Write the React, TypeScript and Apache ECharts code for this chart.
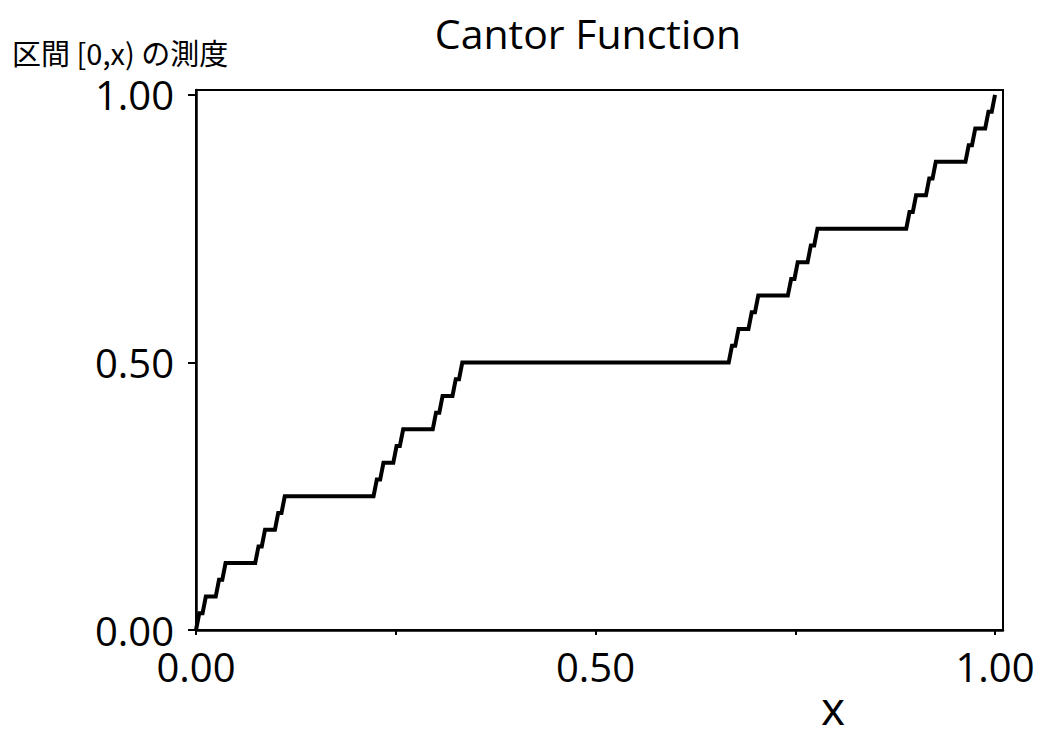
import React, { useEffect, useRef } from "react";
import * as echarts from "echarts";

// Flat segments of the Cantor staircase
const flatStart = [0.0041, 0.0123, 0.0288, 0.037, 0.0782, 0.0864, 0.1029, 0.1111, 0.2263, 0.2346, 0.251, 0.2593, 0.3004, 0.3086, 0.3251, 0.3333, 0.6708, 0.679, 0.6955, 0.7037, 0.7449, 0.7531, 0.7695, 0.7778, 0.893, 0.9012, 0.9177, 0.9259, 0.9671, 0.9753, 0.9918];
const flatEnd = [0.0082, 0.0247, 0.0329, 0.0741, 0.0823, 0.0988, 0.107, 0.2222, 0.2305, 0.2469, 0.2551, 0.2963, 0.3045, 0.321, 0.3292, 0.6667, 0.6749, 0.6914, 0.6996, 0.7407, 0.749, 0.7654, 0.7737, 0.8889, 0.8971, 0.9136, 0.9218, 0.963, 0.9712, 0.9877, 0.9959];
const flatLevel = [0.03125, 0.0625, 0.09375, 0.125, 0.15625, 0.1875, 0.21875, 0.25, 0.28125, 0.3125, 0.34375, 0.375, 0.40625, 0.4375, 0.46875, 0.5, 0.53125, 0.5625, 0.59375, 0.625, 0.65625, 0.6875, 0.71875, 0.75, 0.78125, 0.8125, 0.84375, 0.875, 0.90625, 0.9375, 0.96875];
const startPoint = [0, 0];
const endPoint = [1, 1];
const labelTicks = [0, 0.5, 1];

const TITLE = "Cantor Function";
const Y_NAME = "区間 [0,x) の測度";
const X_NAME = "x";

export default function App() {
  const ref = useRef<HTMLDivElement>(null);
  useEffect(() => {
    if (!ref.current) return;
    const chart = echarts.init(ref.current, undefined, { renderer: "svg" });
    const pts: number[][] = [startPoint];
    flatStart.forEach((s, i) => {
      pts.push([s, flatLevel[i]]);
      pts.push([flatEnd[i], flatLevel[i]]);
    });
    pts.push(endPoint);
    const fmt = (v: number) =>
      labelTicks.some((t) => Math.abs(t - v) < 1e-6) ? v.toFixed(2) : "";
    const sans = "'Open Sans', 'DejaVu Sans', sans-serif";
    chart.setOption({
      animation: false,
      backgroundColor: "#fff",
      title: {
        text: TITLE,
        left: 583,
        top: 7,
        textAlign: "center",
        textStyle: { fontFamily: sans, fontSize: 41, fontWeight: "normal", color: "#000" },
      },
      graphic: [
        {
          type: "text",
          left: 12,
          top: 37,
          style: { text: Y_NAME, font: "29px 'Noto Sans CJK JP', serif", fill: "#000" },
        },
        {
          type: "text",
          left: 821,
          top: 684,
          style: { text: X_NAME, font: `46px ${sans}`, fill: "#000" },
        },
      ],
      grid: {
        left: 196,
        top: 90,
        right: 38,
        bottom: 122,
        show: true,
        borderColor: "#000",
        borderWidth: 2,
        backgroundColor: "transparent",
      },
      xAxis: {
        type: "value",
        min: 0,
        max: 1.01,
        interval: 0.25,
        splitLine: { show: false },
        axisLine: { show: true, onZero: false, lineStyle: { color: "#000", width: 2.5 } },
        axisTick: { show: true, length: 5, lineStyle: { color: "#000", width: 2 } },
        axisLabel: {
          formatter: fmt,
          color: "#000",
          fontFamily: sans,
          fontSize: 40,
          margin: 16,
          showMaxLabel: false,
        },
      },
      yAxis: {
        type: "value",
        min: 0,
        max: 1.0093,
        interval: 0.5,
        splitLine: { show: false },
        axisLine: { show: true, onZero: false, lineStyle: { color: "#000", width: 2.5 } },
        axisTick: { show: true, length: 8, lineStyle: { color: "#000", width: 2 } },
        axisLabel: {
          formatter: fmt,
          color: "#000",
          fontFamily: sans,
          fontSize: 40,
          margin: 22,
          showMaxLabel: false,
        },
      },
      series: [
        {
          type: "line",
          data: pts,
          showSymbol: false,
          symbol: "none",
          lineStyle: { color: "#000", width: 4, join: "miter" },
        },
      ],
    });
    return () => chart.dispose();
  }, []);
  return (
    <div
      ref={ref}
      style={{ position: "fixed", left: 0, top: 0, width: 1041, height: 752, background: "#fff" }}
    />
  );
}
